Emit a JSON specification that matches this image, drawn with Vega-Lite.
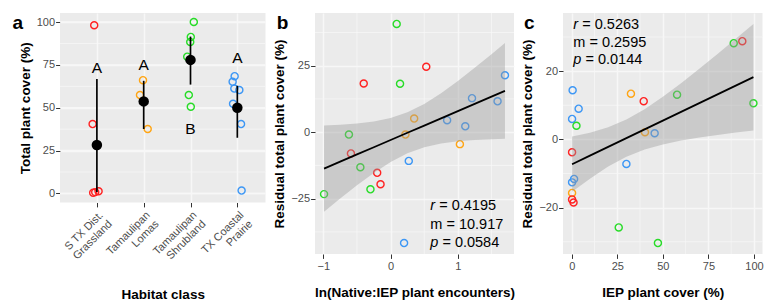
{
  "$schema": "https://vega.github.io/schema/vega-lite/v6.json",
  "background": "white",
  "padding": {"left": 12, "top": 12, "right": 4, "bottom": 0},
  "bounds": "flush",
  "spacing": 49,
  "config": {
    "view": {"fill": "#EBEBEB", "stroke": null},
    "font": "Liberation Sans",
    "axis": {
      "labelFont": "Liberation Sans", "titleFont": "Liberation Sans",
      "labelFontSize": 11, "labelColor": "#4D4D4D",
      "titleFontSize": 13.5, "titleFontWeight": "bold", "titleColor": "#000000",
      "tickColor": "#333333", "tickSize": 4.4, "tickWidth": 1, "domain": false,
      "grid": true, "gridColor": "#F7F7F7", "gridWidth": 1.5, "labelPadding": 1, "titlePadding": 4, "labelOverlap": false
    },
    "axisX": {"labelPadding": 2},
    "title": {"font": "Liberation Sans", "fontSize": 19, "fontWeight": "bold", "anchor": "start", "frame": "bounds", "color": "#000000", "offset": 0},
    "text": {"font": "Liberation Sans"}
  },
  "datasets": {
    "a_points": [
      {"habitat": "S TX Dist. Grassland", "cover": 98.1, "jitter": -0.057},
      {"habitat": "S TX Dist. Grassland", "cover": 40.5, "jitter": -0.091},
      {"habitat": "S TX Dist. Grassland", "cover": 0.4, "jitter": -0.079},
      {"habitat": "S TX Dist. Grassland", "cover": 0.8, "jitter": -0.036},
      {"habitat": "S TX Dist. Grassland", "cover": 1.3, "jitter": 0.036},
      {"habitat": "Tamaulipan Lomas", "cover": 66.1, "jitter": -0.015},
      {"habitat": "Tamaulipan Lomas", "cover": 57.4, "jitter": -0.079},
      {"habitat": "Tamaulipan Lomas", "cover": 37.6, "jitter": 0.085},
      {"habitat": "Tamaulipan Shrubland", "cover": 100.0, "jitter": 0.070},
      {"habitat": "Tamaulipan Shrubland", "cover": 91.3, "jitter": 0.006},
      {"habitat": "Tamaulipan Shrubland", "cover": 88.4, "jitter": -0.006},
      {"habitat": "Tamaulipan Shrubland", "cover": 79.8, "jitter": -0.070},
      {"habitat": "Tamaulipan Shrubland", "cover": 57.4, "jitter": -0.036},
      {"habitat": "Tamaulipan Shrubland", "cover": 50.6, "jitter": 0.006},
      {"habitat": "TX Coastal Prairie", "cover": 68.4, "jitter": -0.057},
      {"habitat": "TX Coastal Prairie", "cover": 65.1, "jitter": -0.100},
      {"habitat": "TX Coastal Prairie", "cover": 61.2, "jitter": -0.064},
      {"habitat": "TX Coastal Prairie", "cover": 60.3, "jitter": 0.043},
      {"habitat": "TX Coastal Prairie", "cover": 52.3, "jitter": -0.091},
      {"habitat": "TX Coastal Prairie", "cover": 40.5, "jitter": 0.079},
      {"habitat": "TX Coastal Prairie", "cover": 1.7, "jitter": 0.091}
    ],
    "a_summary": [
      {"habitat": "S TX Dist. Grassland", "mean": 28.3, "lower": 0.8, "upper": 66.7, "letter": "A", "letter_y": 73.0},
      {"habitat": "Tamaulipan Lomas", "mean": 53.7, "lower": 37.6, "upper": 65.7, "letter": "A", "letter_y": 74.9},
      {"habitat": "Tamaulipan Shrubland", "mean": 77.9, "lower": 63.5, "upper": 91.5, "letter": "B", "letter_y": 37.6},
      {"habitat": "TX Coastal Prairie", "mean": 50.0, "lower": 32.5, "upper": 62.8, "letter": "A", "letter_y": 78.8}
    ],
    "a_grid": [
      {"kind": "major", "value": 0}, {"kind": "minor", "value": 12.5},
      {"kind": "major", "value": 25}, {"kind": "minor", "value": 37.5},
      {"kind": "major", "value": 50}, {"kind": "minor", "value": 62.5},
      {"kind": "major", "value": 75}, {"kind": "minor", "value": 87.5},
      {"kind": "major", "value": 100}
    ],
    "b_grid": [
      {"axis": "x", "kind": "major", "value": -1}, {"axis": "x", "kind": "minor", "value": -0.5},
      {"axis": "x", "kind": "major", "value": 0}, {"axis": "x", "kind": "minor", "value": 0.5},
      {"axis": "x", "kind": "major", "value": 1}, {"axis": "x", "kind": "minor", "value": 1.5},
      {"axis": "y", "kind": "minor", "value": -37.5}, {"axis": "y", "kind": "major", "value": -25},
      {"axis": "y", "kind": "minor", "value": -12.5}, {"axis": "y", "kind": "major", "value": 0},
      {"axis": "y", "kind": "minor", "value": 12.5}, {"axis": "y", "kind": "major", "value": 25},
      {"axis": "y", "kind": "minor", "value": 37.5}
    ],
    "c_grid": [
      {"axis": "x", "kind": "major", "value": 0}, {"axis": "x", "kind": "minor", "value": 12.5},
      {"axis": "x", "kind": "major", "value": 25}, {"axis": "x", "kind": "minor", "value": 37.5},
      {"axis": "x", "kind": "major", "value": 50}, {"axis": "x", "kind": "minor", "value": 62.5},
      {"axis": "x", "kind": "major", "value": 75}, {"axis": "x", "kind": "minor", "value": 87.5},
      {"axis": "x", "kind": "major", "value": 100},
      {"axis": "y", "kind": "minor", "value": -30}, {"axis": "y", "kind": "major", "value": -20},
      {"axis": "y", "kind": "minor", "value": -10}, {"axis": "y", "kind": "major", "value": 0},
      {"axis": "y", "kind": "minor", "value": 10}, {"axis": "y", "kind": "major", "value": 20},
      {"axis": "y", "kind": "minor", "value": 30}
    ],
    "b_points": [
      {"habitat": "Tamaulipan Shrubland", "ln_ratio": 0.09, "residual": 40.7},
      {"habitat": "S TX Dist. Grassland", "ln_ratio": 0.53, "residual": 24.6},
      {"habitat": "S TX Dist. Grassland", "ln_ratio": -0.40, "residual": 18.3},
      {"habitat": "Tamaulipan Shrubland", "ln_ratio": 0.14, "residual": 18.2},
      {"habitat": "TX Coastal Prairie", "ln_ratio": 1.70, "residual": 21.4},
      {"habitat": "TX Coastal Prairie", "ln_ratio": 1.21, "residual": 12.8},
      {"habitat": "TX Coastal Prairie", "ln_ratio": 1.59, "residual": 11.6},
      {"habitat": "Tamaulipan Lomas", "ln_ratio": 0.35, "residual": 5.1},
      {"habitat": "TX Coastal Prairie", "ln_ratio": 0.84, "residual": 4.5},
      {"habitat": "TX Coastal Prairie", "ln_ratio": 1.11, "residual": 2.2},
      {"habitat": "Tamaulipan Lomas", "ln_ratio": 0.22, "residual": -0.9},
      {"habitat": "Tamaulipan Shrubland", "ln_ratio": -0.62, "residual": -0.9},
      {"habitat": "Tamaulipan Lomas", "ln_ratio": 1.03, "residual": -4.5},
      {"habitat": "S TX Dist. Grassland", "ln_ratio": -0.59, "residual": -8.0},
      {"habitat": "TX Coastal Prairie", "ln_ratio": 0.27, "residual": -10.8},
      {"habitat": "Tamaulipan Shrubland", "ln_ratio": -0.45, "residual": -13.2},
      {"habitat": "S TX Dist. Grassland", "ln_ratio": -0.20, "residual": -15.3},
      {"habitat": "S TX Dist. Grassland", "ln_ratio": -0.15, "residual": -19.6},
      {"habitat": "Tamaulipan Shrubland", "ln_ratio": -0.30, "residual": -21.5},
      {"habitat": "Tamaulipan Shrubland", "ln_ratio": -0.99, "residual": -23.3},
      {"habitat": "TX Coastal Prairie", "ln_ratio": 0.20, "residual": -41.7}
    ],
    "b_fit": [
      {"ln_ratio": -0.99, "fit": -13.70, "lo": -29.90, "hi": 2.50},
      {"ln_ratio": -0.75, "fit": -11.09, "lo": -24.95, "hi": 2.77},
      {"ln_ratio": -0.50, "fit": -8.38, "lo": -19.98, "hi": 3.22},
      {"ln_ratio": -0.25, "fit": -5.66, "lo": -15.32, "hi": 4.00},
      {"ln_ratio": 0.00, "fit": -2.95, "lo": -11.20, "hi": 5.30},
      {"ln_ratio": 0.25, "fit": -0.23, "lo": -7.91, "hi": 7.45},
      {"ln_ratio": 0.50, "fit": 2.49, "lo": -5.64, "hi": 10.62},
      {"ln_ratio": 0.75, "fit": 5.20, "lo": -4.24, "hi": 14.64},
      {"ln_ratio": 1.00, "fit": 7.92, "lo": -3.41, "hi": 19.25},
      {"ln_ratio": 1.25, "fit": 10.63, "lo": -2.93, "hi": 24.19},
      {"ln_ratio": 1.50, "fit": 13.35, "lo": -2.63, "hi": 29.33},
      {"ln_ratio": 1.70, "fit": 15.52, "lo": -2.48, "hi": 33.52}
    ],
    "c_points": [
      {"habitat": "Tamaulipan Shrubland", "iep_cover": 88.9, "residual": 28.2},
      {"habitat": "S TX Dist. Grassland", "iep_cover": 93.6, "residual": 28.8},
      {"habitat": "TX Coastal Prairie", "iep_cover": 0.5, "residual": 14.4},
      {"habitat": "Tamaulipan Lomas", "iep_cover": 32.5, "residual": 13.4},
      {"habitat": "Tamaulipan Shrubland", "iep_cover": 57.8, "residual": 13.1},
      {"habitat": "S TX Dist. Grassland", "iep_cover": 39.5, "residual": 11.2},
      {"habitat": "Tamaulipan Shrubland", "iep_cover": 99.7, "residual": 10.6},
      {"habitat": "TX Coastal Prairie", "iep_cover": 3.8, "residual": 9.0},
      {"habitat": "TX Coastal Prairie", "iep_cover": 0.2, "residual": 6.0},
      {"habitat": "Tamaulipan Shrubland", "iep_cover": 2.6, "residual": 4.0},
      {"habitat": "Tamaulipan Lomas", "iep_cover": 40.2, "residual": 2.1},
      {"habitat": "TX Coastal Prairie", "iep_cover": 45.5, "residual": 1.8},
      {"habitat": "S TX Dist. Grassland", "iep_cover": 0.2, "residual": -3.8},
      {"habitat": "TX Coastal Prairie", "iep_cover": 30.0, "residual": -7.2},
      {"habitat": "TX Coastal Prairie", "iep_cover": 1.3, "residual": -11.6},
      {"habitat": "TX Coastal Prairie", "iep_cover": 0.2, "residual": -12.6},
      {"habitat": "Tamaulipan Lomas", "iep_cover": 0.2, "residual": -15.7},
      {"habitat": "S TX Dist. Grassland", "iep_cover": 0.2, "residual": -17.6},
      {"habitat": "S TX Dist. Grassland", "iep_cover": 1.0, "residual": -18.5},
      {"habitat": "Tamaulipan Shrubland", "iep_cover": 25.8, "residual": -25.8},
      {"habitat": "Tamaulipan Shrubland", "iep_cover": 47.3, "residual": -30.4}
    ],
    "c_fit": [
      {"iep_cover": 0.2, "fit": -7.28, "lo": -15.38, "hi": 0.82},
      {"iep_cover": 10, "fit": -4.77, "lo": -11.51, "hi": 1.97},
      {"iep_cover": 20, "fit": -2.20, "lo": -7.97, "hi": 3.57},
      {"iep_cover": 30, "fit": 0.37, "lo": -5.10, "hi": 5.83},
      {"iep_cover": 40, "fit": 2.93, "lo": -2.98, "hi": 8.84},
      {"iep_cover": 50, "fit": 5.50, "lo": -1.47, "hi": 12.47},
      {"iep_cover": 60, "fit": 8.06, "lo": -0.35, "hi": 16.47},
      {"iep_cover": 70, "fit": 10.63, "lo": 0.56, "hi": 20.70},
      {"iep_cover": 80, "fit": 13.19, "lo": 1.32, "hi": 25.06},
      {"iep_cover": 90, "fit": 15.76, "lo": 2.02, "hi": 29.50},
      {"iep_cover": 99.7, "fit": 18.24, "lo": 2.64, "hi": 33.84}
    ]
  },
  "hconcat": [
    {
      "width": 205.5, "height": 189.5,
      "title": {"text": "a", "dx": -5.75, "dy": 24},
      "layer": [
        {
          "data": {"name": "a_grid"},
          "mark": {"type": "rule", "stroke": "#F7F7F7", "strokeOpacity": 1},
          "encoding": {
            "y": {"field": "value", "type": "quantitative"},
            "strokeWidth": {"condition": {"test": "datum.kind === 'major'", "value": 1.5}, "value": 0.75}
          }
        },
        {
          "data": {"name": "a_points"},
          "mark": {"type": "point", "shape": "circle", "filled": false, "size": 50, "strokeWidth": 1.4, "opacity": 1},
          "encoding": {
            "x": {"field": "habitat", "type": "nominal",
              "scale": {"type": "point", "domain": ["S TX Dist. Grassland", "Tamaulipan Lomas", "Tamaulipan Shrubland", "TX Coastal Prairie"], "padding": 0.695, "align": 0.567},
              "axis": {"title": "Habitat class", "labelAngle": -45, "labelLineHeight": 12.5, "grid": true, "labelExpr": "[substring(datum.label, 0, lastindexof(datum.label, ' ')), substring(datum.label, lastindexof(datum.label, ' ') + 1)]", "titlePadding": 22}},
            "xOffset": {"field": "jitter", "type": "quantitative", "scale": {"domain": [-1, 1], "range": [-47, 47]}},
            "y": {"field": "cover", "type": "quantitative",
              "scale": {"domain": [-5.25, 105.25], "nice": false, "zero": false},
              "axis": {"title": "Total plant cover (%)", "values": [0, 25, 50, 75, 100]}},
            "color": {"field": "habitat", "type": "nominal", "legend": null,
              "scale": {"domain": ["S TX Dist. Grassland", "Tamaulipan Lomas", "Tamaulipan Shrubland", "TX Coastal Prairie"], "range": ["#FF2222", "#FFA514", "#28DC28", "#3D97F5"]}}
          }
        },
        {
          "data": {"name": "a_summary"},
          "mark": {"type": "rule", "strokeWidth": 1.7, "stroke": "#000000"},
          "encoding": {
            "x": {"field": "habitat", "type": "nominal"},
            "y": {"field": "lower", "type": "quantitative"},
            "y2": {"field": "upper"}
          }
        },
        {
          "data": {"name": "a_summary"},
          "mark": {"type": "circle", "size": 110, "color": "#000000", "opacity": 1},
          "encoding": {
            "x": {"field": "habitat", "type": "nominal"},
            "y": {"field": "mean", "type": "quantitative"}
          }
        },
        {
          "data": {"name": "a_summary"},
          "mark": {"type": "text", "fontSize": 15.5, "color": "#000000", "baseline": "middle", "align": "center"},
          "encoding": {
            "x": {"field": "habitat", "type": "nominal"},
            "y": {"field": "letter_y", "type": "quantitative"},
            "text": {"field": "letter"}
          }
        }
      ]
    },
    {
      "width": 199, "height": 241,
      "title": {"text": "b", "dx": 3.8, "dy": 24},
      "layer": [
        {
          "data": {"name": "b_grid"},
          "transform": [{"filter": "datum.axis === 'x' && datum.kind === 'minor'"}],
          "mark": {"type": "rule", "stroke": "#F7F7F7", "strokeOpacity": 1, "strokeWidth": 0.75},
          "encoding": {"x": {"field": "value", "type": "quantitative"}}
        },
        {
          "data": {"name": "b_grid"},
          "transform": [{"filter": "datum.axis === 'y' && datum.kind === 'minor'"}],
          "mark": {"type": "rule", "stroke": "#F7F7F7", "strokeOpacity": 1, "strokeWidth": 0.75},
          "encoding": {"y": {"field": "value", "type": "quantitative"}}
        },
        {
          "data": {"name": "b_points"},
          "mark": {"type": "point", "shape": "circle", "filled": false, "size": 50, "strokeWidth": 1.4, "opacity": 1},
          "encoding": {
            "x": {"field": "ln_ratio", "type": "quantitative",
              "scale": {"domain": [-1.1245, 1.8345], "nice": false, "zero": false},
              "axis": {"title": "ln(Native:IEP plant encounters)", "values": [-1, 0, 1], "format": "d", "titlePadding": 14}},
            "y": {"field": "residual", "type": "quantitative",
              "scale": {"domain": [-45.82, 44.82], "nice": false, "zero": false},
              "axis": {"title": "Residual total plant cover (%)", "values": [-25, 0, 25], "format": "d"}},
            "color": {"field": "habitat", "type": "nominal", "legend": null,
              "scale": {"domain": ["S TX Dist. Grassland", "Tamaulipan Lomas", "Tamaulipan Shrubland", "TX Coastal Prairie"], "range": ["#FF2222", "#FFA514", "#28DC28", "#3D97F5"]}}
          }
        },
        {
          "data": {"name": "b_fit"},
          "mark": {"type": "area", "color": "#999999", "opacity": 0.4},
          "encoding": {
            "x": {"field": "ln_ratio", "type": "quantitative"},
            "y": {"field": "lo", "type": "quantitative"},
            "y2": {"field": "hi"}
          }
        },
        {
          "data": {"name": "b_fit"},
          "mark": {"type": "line", "color": "#000000", "strokeWidth": 1.8},
          "encoding": {
            "x": {"field": "ln_ratio", "type": "quantitative"},
            "y": {"field": "fit", "type": "quantitative"}
          }
        },
        {
          "data": {"values": [{"stat": "r"}]},
          "mark": {"type": "text", "fontSize": 14.5, "fontStyle": "italic", "align": "left", "baseline": "middle", "color": "#000000"},
          "encoding": {"x": {"datum": 0.59}, "y": {"datum": -27.9}, "text": {"field": "stat"}}
        },
        {
          "data": {"values": [{"stat": "= 0.4195"}]},
          "mark": {"type": "text", "fontSize": 14.5, "align": "left", "baseline": "middle", "dx": 8.9, "color": "#000000"},
          "encoding": {"x": {"datum": 0.59}, "y": {"datum": -27.9}, "text": {"field": "stat"}}
        },
        {
          "data": {"values": [{"stat": "m = 10.917"}]},
          "mark": {"type": "text", "fontSize": 14.5, "align": "left", "baseline": "middle", "color": "#000000"},
          "encoding": {"x": {"datum": 0.59}, "y": {"datum": -34.9}, "text": {"field": "stat"}}
        },
        {
          "data": {"values": [{"stat": "p"}]},
          "mark": {"type": "text", "fontSize": 14.5, "fontStyle": "italic", "align": "left", "baseline": "middle", "color": "#000000"},
          "encoding": {"x": {"datum": 0.59}, "y": {"datum": -41.6}, "text": {"field": "stat"}}
        },
        {
          "data": {"values": [{"stat": "= 0.0584"}]},
          "mark": {"type": "text", "fontSize": 14.5, "align": "left", "baseline": "middle", "dx": 12.1, "color": "#000000"},
          "encoding": {"x": {"datum": 0.59}, "y": {"datum": -41.6}, "text": {"field": "stat"}}
        }
      ]
    },
    {
      "width": 199.5, "height": 241,
      "title": {"text": "c", "dx": 3, "dy": 24},
      "layer": [
        {
          "data": {"name": "c_grid"},
          "transform": [{"filter": "datum.axis === 'x' && datum.kind === 'minor'"}],
          "mark": {"type": "rule", "stroke": "#F7F7F7", "strokeOpacity": 1, "strokeWidth": 0.75},
          "encoding": {"x": {"field": "value", "type": "quantitative"}}
        },
        {
          "data": {"name": "c_grid"},
          "transform": [{"filter": "datum.axis === 'y' && datum.kind === 'minor'"}],
          "mark": {"type": "rule", "stroke": "#F7F7F7", "strokeOpacity": 1, "strokeWidth": 0.75},
          "encoding": {"y": {"field": "value", "type": "quantitative"}}
        },
        {
          "data": {"name": "c_points"},
          "mark": {"type": "point", "shape": "circle", "filled": false, "size": 50, "strokeWidth": 1.4, "opacity": 1},
          "encoding": {
            "x": {"field": "iep_cover", "type": "quantitative",
              "scale": {"domain": [-4.78, 104.68], "nice": false, "zero": false},
              "axis": {"title": "IEP plant cover (%)", "values": [0, 25, 50, 75, 100], "format": "d", "titlePadding": 14}},
            "y": {"field": "residual", "type": "quantitative",
              "scale": {"domain": [-33.6, 37.05], "nice": false, "zero": false},
              "axis": {"title": "Residual total plant cover (%)", "values": [-20, 0, 20], "format": "d"}},
            "color": {"field": "habitat", "type": "nominal", "legend": null,
              "scale": {"domain": ["S TX Dist. Grassland", "Tamaulipan Lomas", "Tamaulipan Shrubland", "TX Coastal Prairie"], "range": ["#FF2222", "#FFA514", "#28DC28", "#3D97F5"]}}
          }
        },
        {
          "data": {"name": "c_fit"},
          "mark": {"type": "area", "color": "#999999", "opacity": 0.4},
          "encoding": {
            "x": {"field": "iep_cover", "type": "quantitative"},
            "y": {"field": "lo", "type": "quantitative"},
            "y2": {"field": "hi"}
          }
        },
        {
          "data": {"name": "c_fit"},
          "mark": {"type": "line", "color": "#000000", "strokeWidth": 1.8},
          "encoding": {
            "x": {"field": "iep_cover", "type": "quantitative"},
            "y": {"field": "fit", "type": "quantitative"}
          }
        },
        {
          "data": {"values": [{"stat": "r"}]},
          "mark": {"type": "text", "fontSize": 14.5, "fontStyle": "italic", "align": "left", "baseline": "middle", "color": "#000000"},
          "encoding": {"x": {"datum": 0.9}, "y": {"datum": 33.5}, "text": {"field": "stat"}}
        },
        {
          "data": {"values": [{"stat": "= 0.5263"}]},
          "mark": {"type": "text", "fontSize": 14.5, "align": "left", "baseline": "middle", "dx": 8.9, "color": "#000000"},
          "encoding": {"x": {"datum": 0.9}, "y": {"datum": 33.5}, "text": {"field": "stat"}}
        },
        {
          "data": {"values": [{"stat": "m = 0.2595"}]},
          "mark": {"type": "text", "fontSize": 14.5, "align": "left", "baseline": "middle", "color": "#000000"},
          "encoding": {"x": {"datum": 0.9}, "y": {"datum": 28.3}, "text": {"field": "stat"}}
        },
        {
          "data": {"values": [{"stat": "p"}]},
          "mark": {"type": "text", "fontSize": 14.5, "fontStyle": "italic", "align": "left", "baseline": "middle", "color": "#000000"},
          "encoding": {"x": {"datum": 0.9}, "y": {"datum": 23.2}, "text": {"field": "stat"}}
        },
        {
          "data": {"values": [{"stat": "= 0.0144"}]},
          "mark": {"type": "text", "fontSize": 14.5, "align": "left", "baseline": "middle", "dx": 12.1, "color": "#000000"},
          "encoding": {"x": {"datum": 0.9}, "y": {"datum": 23.2}, "text": {"field": "stat"}}
        }
      ]
    }
  ]
}
